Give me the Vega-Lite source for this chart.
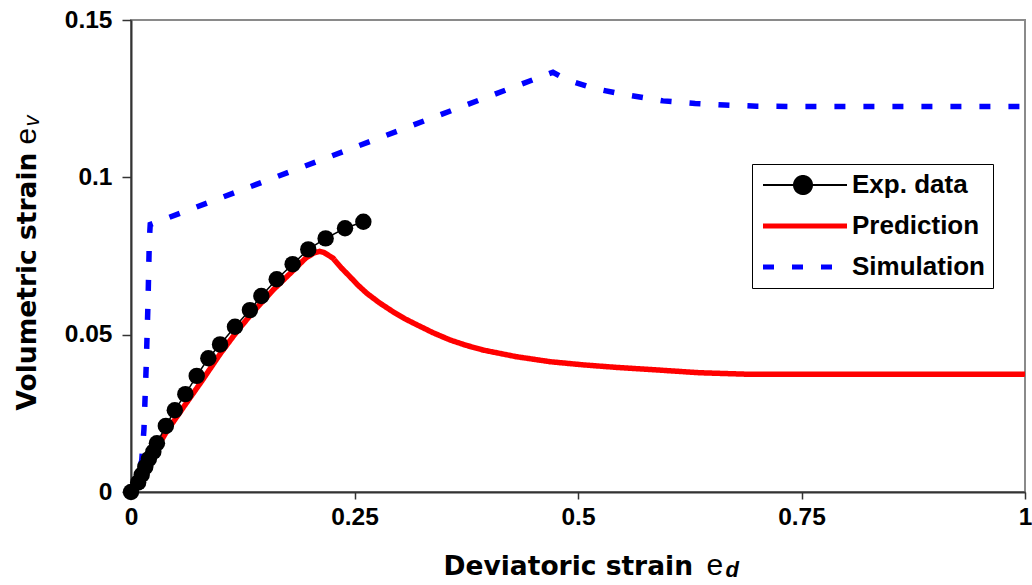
{
  "$schema": "https://vega.github.io/schema/vega-lite/v6.json",
  "width": 894,
  "height": 472,
  "autosize": {"type": "none"},
  "padding": {"left": 131, "top": 20, "right": 7, "bottom": 93},
  "background": "white",
  "config": {
    "view": {"stroke": "#8a8a8a", "strokeWidth": 2},
    "axis": {
      "labelFont": "Liberation Sans",
      "labelFontWeight": "bold",
      "labelFontSize": 24.5,
      "labelColor": "black",
      "labelFlush": false,
      "domainColor": "#333333",
      "domainWidth": 2,
      "tickColor": "#333333",
      "tickWidth": 1.5,
      "tickSize": 7,
      "grid": false,
      "titleColor": "black"
    },
    "legend": {
      "labelFont": "Liberation Sans",
      "labelFontWeight": "bold",
      "labelFontSize": 26,
      "labelColor": "black"
    }
  },
  "datasets": {
    "curves": [
      {"series": "Prediction", "x": 0, "y": 0},
      {"series": "Prediction", "x": 0.01, "y": 0.0042},
      {"series": "Prediction", "x": 0.02, "y": 0.0092},
      {"series": "Prediction", "x": 0.03, "y": 0.0145},
      {"series": "Prediction", "x": 0.04, "y": 0.0193},
      {"series": "Prediction", "x": 0.06, "y": 0.0275},
      {"series": "Prediction", "x": 0.08, "y": 0.0356},
      {"series": "Prediction", "x": 0.1, "y": 0.044},
      {"series": "Prediction", "x": 0.12, "y": 0.0516},
      {"series": "Prediction", "x": 0.14, "y": 0.0583},
      {"series": "Prediction", "x": 0.16, "y": 0.0645},
      {"series": "Prediction", "x": 0.18, "y": 0.07},
      {"series": "Prediction", "x": 0.196, "y": 0.0745},
      {"series": "Prediction", "x": 0.205, "y": 0.076},
      {"series": "Prediction", "x": 0.211, "y": 0.0765},
      {"series": "Prediction", "x": 0.216, "y": 0.0761},
      {"series": "Prediction", "x": 0.226, "y": 0.0743},
      {"series": "Prediction", "x": 0.235, "y": 0.0713},
      {"series": "Prediction", "x": 0.245, "y": 0.0684},
      {"series": "Prediction", "x": 0.254, "y": 0.0657},
      {"series": "Prediction", "x": 0.264, "y": 0.0631},
      {"series": "Prediction", "x": 0.278, "y": 0.0601},
      {"series": "Prediction", "x": 0.293, "y": 0.0573},
      {"series": "Prediction", "x": 0.306, "y": 0.0551},
      {"series": "Prediction", "x": 0.32, "y": 0.0531},
      {"series": "Prediction", "x": 0.338, "y": 0.0506},
      {"series": "Prediction", "x": 0.357, "y": 0.0483},
      {"series": "Prediction", "x": 0.375, "y": 0.0466},
      {"series": "Prediction", "x": 0.394, "y": 0.0451},
      {"series": "Prediction", "x": 0.431, "y": 0.043},
      {"series": "Prediction", "x": 0.469, "y": 0.0414},
      {"series": "Prediction", "x": 0.506, "y": 0.0404},
      {"series": "Prediction", "x": 0.543, "y": 0.0396},
      {"series": "Prediction", "x": 0.577, "y": 0.039},
      {"series": "Prediction", "x": 0.636, "y": 0.0379},
      {"series": "Prediction", "x": 0.692, "y": 0.0374},
      {"series": "Prediction", "x": 0.75, "y": 0.0374},
      {"series": "Prediction", "x": 1.0, "y": 0.0374},
      {"series": "Simulation", "x": 0, "y": 0},
      {"series": "Simulation", "x": 0.012, "y": 0.01},
      {"series": "Simulation", "x": 0.0145, "y": 0.02},
      {"series": "Simulation", "x": 0.017, "y": 0.04},
      {"series": "Simulation", "x": 0.019, "y": 0.06},
      {"series": "Simulation", "x": 0.0205, "y": 0.08},
      {"series": "Simulation", "x": 0.0215, "y": 0.085},
      {"series": "Simulation", "x": 0.472, "y": 0.1334},
      {"series": "Simulation", "x": 0.487, "y": 0.1311},
      {"series": "Simulation", "x": 0.517, "y": 0.1283},
      {"series": "Simulation", "x": 0.55, "y": 0.1264},
      {"series": "Simulation", "x": 0.595, "y": 0.1243},
      {"series": "Simulation", "x": 0.631, "y": 0.1235},
      {"series": "Simulation", "x": 0.664, "y": 0.123},
      {"series": "Simulation", "x": 0.7, "y": 0.1226},
      {"series": "Simulation", "x": 0.75, "y": 0.1225},
      {"series": "Simulation", "x": 1.0, "y": 0.1225}
    ],
    "exp": [
      {"series": "Exp. data", "x": 0, "y": 0},
      {"series": "Exp. data", "x": 0.008, "y": 0.003},
      {"series": "Exp. data", "x": 0.012, "y": 0.0055},
      {"series": "Exp. data", "x": 0.016, "y": 0.008},
      {"series": "Exp. data", "x": 0.02, "y": 0.0105},
      {"series": "Exp. data", "x": 0.025, "y": 0.0128},
      {"series": "Exp. data", "x": 0.029, "y": 0.0155},
      {"series": "Exp. data", "x": 0.039, "y": 0.021},
      {"series": "Exp. data", "x": 0.049, "y": 0.026},
      {"series": "Exp. data", "x": 0.0608, "y": 0.0311},
      {"series": "Exp. data", "x": 0.0735, "y": 0.0369},
      {"series": "Exp. data", "x": 0.0865, "y": 0.0425},
      {"series": "Exp. data", "x": 0.0996, "y": 0.0469},
      {"series": "Exp. data", "x": 0.1163, "y": 0.0525},
      {"series": "Exp. data", "x": 0.133, "y": 0.0578},
      {"series": "Exp. data", "x": 0.1458, "y": 0.0623},
      {"series": "Exp. data", "x": 0.163, "y": 0.0676},
      {"series": "Exp. data", "x": 0.1808, "y": 0.0724},
      {"series": "Exp. data", "x": 0.1983, "y": 0.0771},
      {"series": "Exp. data", "x": 0.2177, "y": 0.0806},
      {"series": "Exp. data", "x": 0.2394, "y": 0.0838},
      {"series": "Exp. data", "x": 0.2599, "y": 0.0859}
    ]
  },
  "layer": [
    {
      "data": {"name": "curves"},
      "mark": {"type": "line", "strokeWidth": 5.5, "clip": true},
      "encoding": {
        "x": {
          "field": "x", "type": "quantitative",
          "scale": {"domain": [0, 1], "nice": false, "zero": false},
          "axis": {
            "orient": "bottom",
            "values": [0, 0.25, 0.5, 0.75, 1],
            "format": ".2~f",
            "labelPadding": 6,
            "title": "Deviatoric strain",
            "titleFont": "DejaVu Sans",
            "titleFontWeight": "bold",
            "titleFontSize": 26.5,
            "titleAlign": "left",
            "titleBaseline": "alphabetic",
            "titleX": 312,
            "titleY": 82
          }
        },
        "y": {
          "field": "y", "type": "quantitative",
          "scale": {"domain": [0, 0.15], "nice": false},
          "axis": {
            "orient": "left",
            "values": [0, 0.05, 0.1, 0.15],
            "format": ".2~f",
            "labelPadding": 10,
            "tickSize": 9,
            "title": "Volumetric strain",
            "titleFont": "DejaVu Sans",
            "titleFontWeight": "bold",
            "titleFontSize": 26.5,
            "titleAngle": 270,
            "titleAlign": "left",
            "titleBaseline": "alphabetic",
            "titleX": -96,
            "titleY": 390
          }
        },
        "color": {
          "field": "series", "type": "nominal",
          "scale": {"domain": ["Exp. data", "Prediction", "Simulation"], "range": ["#000000", "#ff0000", "#0000ff"]},
          "legend": {
            "title": null,
            "orient": "none",
            "legendX": 621,
            "legendY": 144,
            "padding": 8,
            "strokeColor": "#000000",
            "fillColor": "#ffffff",
            "cornerRadius": 0,
            "symbolSize": 400,
            "labelOffset": 66,
            "rowPadding": 15,
            "labelLimit": 300,
            "encode": {
              "symbols": {
                "update": {
                  "shape": {"signal": "datum.value === 'Exp. data' ? 'M-1,0L2.1,0M3.9,0L7.4,0M2.1,0A0.9,0.9,0,1,1,3.9,0A0.9,0.9,0,1,1,2.1,0Z' : 'M-1,0L7.4,0'"},
                  "fill": {"signal": "datum.value === 'Exp. data' ? '#000000' : 'transparent'"},
                  "stroke": {"signal": "datum.value === 'Exp. data' ? '#000000' : (datum.value === 'Prediction' ? '#ff0000' : '#0000ff')"},
                  "strokeWidth": {"signal": "datum.value === 'Exp. data' ? 2 : 5"},
                  "strokeDash": {"signal": "datum.value === 'Simulation' ? [11, 19] : [1, 0]"},
                  "opacity": {"value": 1}
                }
              }
            }
          }
        },
        "strokeDash": {
          "field": "series", "type": "nominal",
          "scale": {"domain": ["Exp. data", "Prediction", "Simulation"], "range": [[1, 0], [1, 0], [11, 18]]},
          "legend": null
        }
      }
    },
    {
      "data": {"name": "exp"},
      "mark": {"type": "line", "strokeWidth": 1.5},
      "encoding": {
        "x": {
          "field": "x", "type": "quantitative",
          "axis": {
            "orient": "bottom",
            "labels": false, "ticks": false, "domain": false,
            "title": "e",
            "titleFont": "Liberation Sans",
            "titleFontWeight": "normal",
            "titleFontSize": 30,
            "titleAlign": "left",
            "titleBaseline": "alphabetic",
            "titleX": 575,
            "titleY": 82
          }
        },
        "y": {
          "field": "y", "type": "quantitative",
          "axis": {
            "orient": "left",
            "labels": false, "ticks": false, "domain": false,
            "title": "e",
            "titleFont": "Liberation Sans",
            "titleFontWeight": "normal",
            "titleFontSize": 30,
            "titleAngle": 270,
            "titleAlign": "left",
            "titleBaseline": "alphabetic",
            "titleX": -96,
            "titleY": 124
          }
        },
        "color": {"field": "series", "type": "nominal"}
      }
    },
    {
      "data": {"name": "exp"},
      "mark": {"type": "point", "filled": true, "size": 270, "opacity": 1, "shape": "circle"},
      "encoding": {
        "x": {
          "field": "x", "type": "quantitative",
          "axis": {
            "orient": "bottom",
            "labels": false, "ticks": false, "domain": false,
            "title": "d",
            "titleFont": "Liberation Sans",
            "titleFontWeight": "bold",
            "titleFontStyle": "italic",
            "titleFontSize": 22,
            "titleAlign": "left",
            "titleBaseline": "alphabetic",
            "titleX": 594,
            "titleY": 84
          }
        },
        "y": {
          "field": "y", "type": "quantitative",
          "axis": {
            "orient": "left",
            "labels": false, "ticks": false, "domain": false,
            "title": "v",
            "titleFont": "Liberation Sans",
            "titleFontWeight": "normal",
            "titleFontStyle": "italic",
            "titleFontSize": 22,
            "titleAngle": 270,
            "titleAlign": "left",
            "titleBaseline": "alphabetic",
            "titleX": -93,
            "titleY": 106
          }
        },
        "color": {"field": "series", "type": "nominal"}
      }
    }
  ],
  "resolve": {"axis": {"x": "independent", "y": "independent"}}
}
